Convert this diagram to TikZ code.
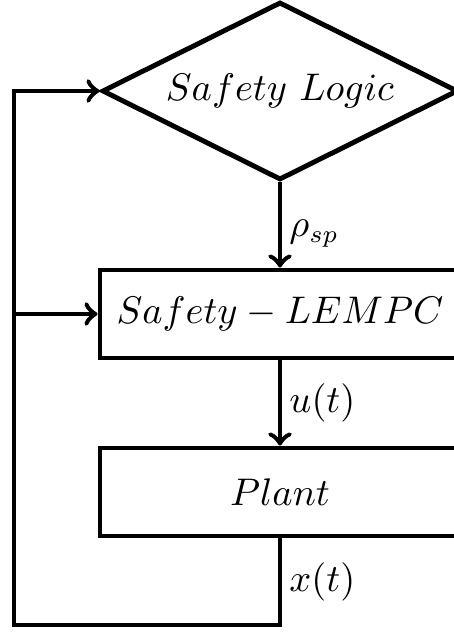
\documentclass[tikz,border=0pt]{standalone}
\usepackage{amsmath, amssymb}
\usetikzlibrary{shapes.geometric}

\begin{document}
\begin{tikzpicture}[line width=1.4pt, font=\fontsize{10.6}{13}\selectfont,
logic/.style={draw, diamond, shape aspect=2, minimum width=3.56cm, minimum height=1.78cm, inner sep=0pt},
block/.style={draw, rectangle, minimum width=3.6cm, minimum height=0.88cm},
sig/.style={->}]
\useasboundingbox (0,0) rectangle (4.54,6.32);
\node[logic] (logic) at (2.80,5.41) {$Safety\ Logic$};
\node[block] (lempc) at (2.80,3.18) {$Safety-LEMPC$};
\node[block] (plant) at (2.80,1.40) {$Plant$};
\coordinate (fbleft) at (0.14,0.07);
\coordinate (tap) at (fbleft |- lempc.west);
\draw[sig] (logic.south) -- node[right, pos=0.6, inner sep=2pt] {$\rho_{sp}$} (lempc.north);
\draw[sig] (lempc.south) -- node[right, inner sep=2pt] {$u(t)$} (plant.north);
\draw[sig] (plant.south) |- node[pos=0.25, right, inner sep=2pt] {$x(t)$} (fbleft) |- (logic.west);
\draw[sig] (tap) -- (lempc.west);
\end{tikzpicture}
\end{document}
